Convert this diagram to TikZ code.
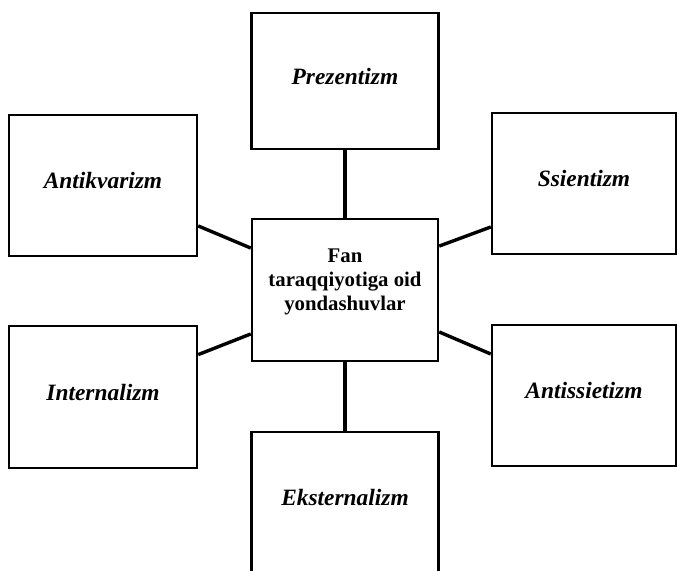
\documentclass[tikz,border=0pt]{standalone}
\usepackage{fontspec}
\setmainfont{Liberation Serif}

\begin{document}
\begin{tikzpicture}[x=0.5pt,y=-0.5pt,
  termbox/.style={draw, line width=1.2pt, inner sep=0pt, minimum width=93.5pt,
    minimum height=70.5pt, text depth=5pt,
    font=\fontsize{11.7}{14}\selectfont\bfseries\itshape},
  hubbox/.style={draw, line width=1.2pt, inner sep=0pt, minimum width=93pt,
    minimum height=71pt, align=center, text depth=10pt,
    font=\fontsize{10.4}{12}\selectfont\bfseries},
  link/.style={line width=1.7pt}]
  \useasboundingbox (0,0) rectangle (677,570);

  % Central box
  \node[hubbox] (fan) at (345,290) {Fan\\taraqqiyotiga oid\\yondashuvlar};

  % Surrounding boxes
  \node[termbox, minimum height=68pt] (pre) at (345,81) {Prezentizm};
  \node[termbox, minimum width=94pt] (ant) at (103,185.5) {Antikvarizm};
  \node[termbox, minimum width=92pt] (ssi) at (584,183.5) {Ssientizm};
  \node[termbox, minimum width=94pt, minimum height=71pt] (int) at (103,397) {Internalizm};
  \node[termbox, minimum width=92pt] (antis) at (584,395.5) {Antissietizm};
  \node[termbox, minimum height=70pt] (eks) at (345,502) {Eksternalizm};

  % Connectors
  \draw[link] (pre.south) -- (fan.north);
  \draw[link] (fan.south) -- (eks.north);
  \draw[link] (ant.-23) -- (fan.156);
  \draw[link] (fan.25) -- (ssi.205);
  \draw[link] (int.24) -- (fan.205);
  \draw[link] (fan.-24) -- (antis.156);
\end{tikzpicture}
\end{document}
